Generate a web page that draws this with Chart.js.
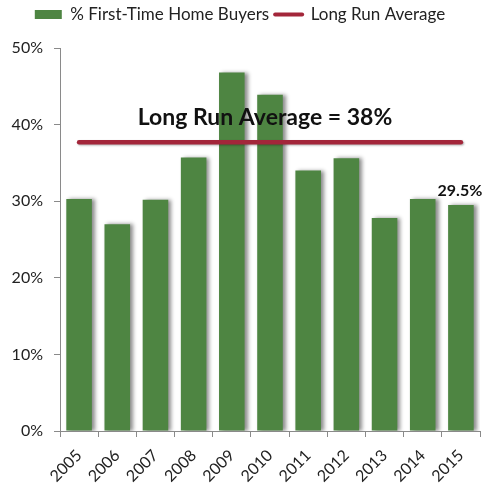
<!DOCTYPE html>
<html>
<head>
<meta charset="utf-8">
<script src="https://cdn.jsdelivr.net/npm/chart.js@4"></script>
<style>
  html, body { margin: 0; padding: 0; background: #fff; }
  #wrap { width: 490px; height: 484px; }
</style>
</head>
<body>
<div id="wrap"><canvas id="chart" width="490" height="484"></canvas></div>
<script>
// Data
const years = ['2005', '2006', '2007', '2008', '2009', '2010', '2011', '2012', '2013', '2014', '2015'];
const firstTimeShare = [30.3, 27.0, 30.2, 35.7, 46.8, 43.9, 34.0, 35.6, 27.8, 30.3, 29.5];
const longRunAverage = [37.7, 37.7, 37.7, 37.7, 37.7, 37.7, 37.7, 37.7, 37.7, 37.7, 37.7];
const avgNote = 'Long Run Average = 38%';
const lastNote = '29.5%';

const GREEN = '#4e8542';
const RED = '#a3263a';
const AXIS = '#8a8a8a';
const FONT = 'Lato, "Open Sans", sans-serif';

// soft shadow on the right of each bar, like the original
const markShadow = {
    id: 'markShadow',
    beforeDatasetDraw(chart, args) {
        const ctx = chart.ctx;
        ctx.save();
        if (args.index === 0) {
            ctx.shadowColor = 'rgba(0,0,0,0.45)';
            ctx.shadowBlur = 4;
            ctx.shadowOffsetX = 3;
            ctx.shadowOffsetY = 0;
        } else {
            ctx.shadowColor = 'rgba(0,0,0,0.3)';
            ctx.shadowBlur = 2;
            ctx.shadowOffsetX = 1;
            ctx.shadowOffsetY = 1;
        }
    },
    afterDatasetDraw(chart) {
        chart.ctx.restore();
    }
};

// extra room under the legend so the plot starts lower
const legendGap = {
    id: 'legendGap',
    afterInit(chart) {
        const fit = chart.legend.fit;
        chart.legend.fit = function () {
            fit.call(this);
            this.height += 15;
        };
    }
};

// text notes: average label over the line, value over the last bar
const notes = {
    id: 'notes',
    afterDatasetsDraw(chart) {
        const ctx = chart.ctx;
        const area = chart.chartArea;
        const y = chart.scales.y;
        ctx.save();
        ctx.fillStyle = '#111';
        ctx.textAlign = 'center';
        ctx.textBaseline = 'middle';

        ctx.font = 'bold 23px ' + FONT;
        ctx.fillText(avgNote, (area.left + area.right) / 2 - 5, y.getPixelForValue(longRunAverage[0]) - 25);

        const bars = chart.getDatasetMeta(0).data;
        const last = bars[bars.length - 1];
        ctx.font = 'bold 16px ' + FONT;
        ctx.fillText(lastNote, last.x - 1, last.y - 14);
        ctx.restore();
    }
};

const chart = new Chart(document.getElementById('chart'), {
    data: {
        labels: years,
        datasets: [{
            type: 'bar',
            label: '% First-Time Home Buyers',
            data: firstTimeShare,
            backgroundColor: GREEN,
            borderWidth: 0,
            pointStyle: 'rect',
            categoryPercentage: 1,
            barPercentage: 0.67,
            order: 2
        }, {
            type: 'line',
            label: 'Long Run Average',
            data: longRunAverage,
            borderColor: RED,
            backgroundColor: RED,
            borderWidth: 4.5,
            borderCapStyle: 'round',
            pointRadius: 0,
            pointStyle: 'line',
            pointBorderColor: RED,
            pointBorderWidth: 4,
            order: 1
        }]
    },
    options: {
        responsive: false,
        animation: false,
        devicePixelRatio: 1,
        layout: { padding: { left: 0, right: 10, top: 0, bottom: 0 } },
        plugins: {
            legend: {
                position: 'top',
                labels: {
                    usePointStyle: true,
                    pointStyleWidth: 27,
                    boxHeight: 9,
                    padding: 6,
                    color: '#222',
                    font: { family: FONT, size: 17 },
                    sort: (a, b) => a.datasetIndex - b.datasetIndex,
                    generateLabels(chart) {
                        const items = Chart.defaults.plugins.legend.labels.generateLabels(chart);
                        items.forEach(item => {
                            if (item.datasetIndex === 1) {
                                item.lineCap = 'round';
                                item.lineWidth = 4;
                                item.strokeStyle = RED;
                            }
                        });
                        return items;
                    }
                }
            },
            tooltip: { enabled: false }
        },
        scales: {
            x: {
                offset: true,
                afterFit(scale) {
                    scale.height = 53;
                },
                grid: {
                    offset: true,
                    drawOnChartArea: false,
                    tickLength: 6,
                    color: AXIS
                },
                border: { color: AXIS },
                ticks: {
                    minRotation: 45,
                    maxRotation: 45,
                    padding: 9,
                    color: '#222',
                    font: { family: FONT, size: 16 }
                }
            },
            y: {
                min: 0,
                max: 50,
                afterFit(scale) {
                    scale.width = 60;
                },
                grid: {
                    drawOnChartArea: false,
                    tickLength: 6,
                    color: AXIS
                },
                border: { color: AXIS },
                ticks: {
                    stepSize: 10,
                    padding: 11,
                    color: '#222',
                    font: { family: FONT, size: 16 },
                    callback: v => v + '%'
                }
            }
        }
    },
    plugins: [markShadow, legendGap, notes]
});
</script>
</body>
</html>
